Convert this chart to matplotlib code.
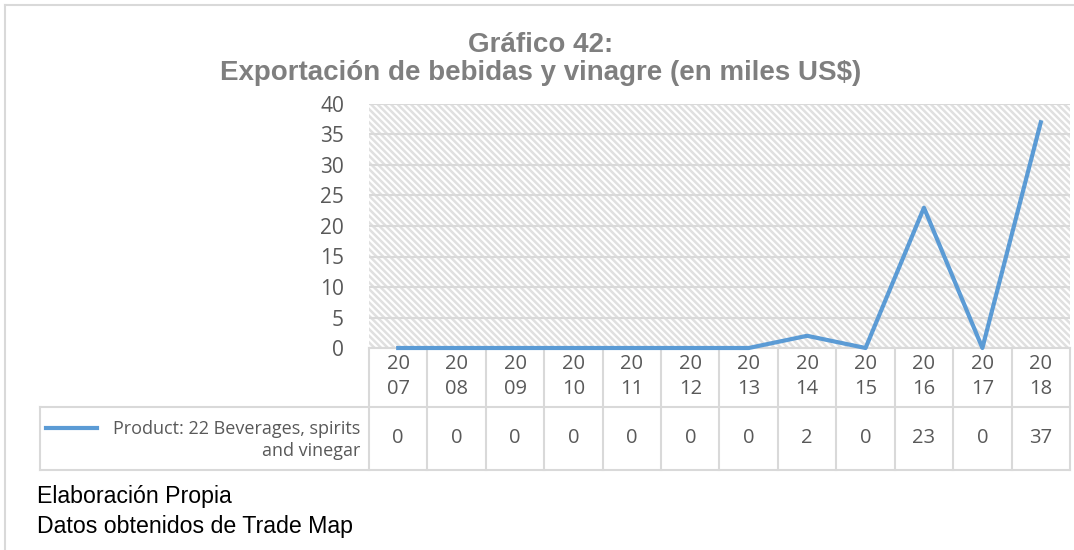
import matplotlib
matplotlib.use('Agg')
import matplotlib.pyplot as plt
import matplotlib.transforms as mtransforms
from matplotlib.patches import Rectangle
from matplotlib.lines import Line2D

# exportaciones anuales, miles US$
years = ['2007', '2008', '2009', '2010', '2011', '2012',
         '2013', '2014', '2015', '2016', '2017', '2018']
exports = [0, 0, 0, 0, 0, 0, 0, 2, 0, 23, 0, 37]
series_name = 'Product: 22 Beverages, spirits\nand vinegar'
y_ticks = [0, 5, 10, 15, 20, 25, 30, 35, 40]

title_1 = 'Gráfico 42:'
title_2 = 'Exportación de bebidas y vinagre (en miles US$)'
notes = ['Elaboración Propia', 'Datos obtenidos de Trade Map']

BLUE = '#5B9BD5'
GRID = '#d9d9d9'
TXT = '#595959'

plt.rcParams['hatch.linewidth'] = 1.8

W, H = 1074, 550
fig = plt.figure(figsize=(W / 100, H / 100), dpi=100)


def fx(px):
    return px / W


def fy(py):
    return 1 - py / H


ax = fig.add_axes([fx(369), fy(348), (1070 - 369) / W, (348 - 104) / H])

# fondo rayado
ax.add_patch(Rectangle((0, 0), 1, 1, transform=ax.transAxes, facecolor='white',
                       edgecolor='#e0e0e0', hatch='\\' * 5, lw=0, zorder=0))
ax.set_axisbelow(True)
ax.yaxis.grid(True, color=GRID, lw=1.5)

x = list(range(len(years)))
ax.plot(x, exports, color=BLUE, lw=3, clip_on=False, zorder=4)

ax.set_xlim(-0.5, len(years) - 0.5)
ax.set_ylim(0, 40)
ax.set_yticks(y_ticks)
ax.set_xticks([])
ax.tick_params(axis='y', length=0, pad=18, labelsize=15, labelcolor=TXT)
for lab in ax.get_yticklabels():
    lab.set_family('Open Sans')
for s in ax.spines.values():
    s.set_visible(False)

# tabla de datos bajo el eje
tr = mtransforms.blended_transform_factory(ax.transData, fig.transFigure)
x_right = ax.get_position().x1
lw_t = 1.5
for i in range(len(years) + 1):
    ax.add_line(Line2D([i - 0.5, i - 0.5], [fy(348), fy(470)], transform=tr,
                       color=GRID, lw=lw_t, clip_on=False, zorder=2))
ax.add_line(Line2D([-0.5, len(years) - 0.5], [fy(348), fy(348)], transform=tr,
                   color=GRID, lw=lw_t, clip_on=False, zorder=2))
for yy in (407, 470):
    fig.add_artist(Line2D([fx(40), x_right], [fy(yy), fy(yy)], color=GRID, lw=lw_t))
fig.add_artist(Line2D([fx(40), fx(40)], [fy(407), fy(470)], color=GRID, lw=lw_t))

for i, (yr, v) in enumerate(zip(years, exports)):
    ax.text(i, fy(376.5), yr[:2] + '\n' + yr[2:], transform=tr, ha='center',
            va='center', linespacing=1.35, fontsize=14.5, color=TXT,
            family='Open Sans')
    ax.text(i, fy(438), str(v), transform=tr, ha='center', va='center',
            fontsize=14.5, color=TXT, family='Open Sans')

# leyenda dentro de la tabla
fig.add_artist(Line2D([fx(46), fx(97)], [fy(428), fy(428)], color=BLUE, lw=3))
fig.text(fx(360), fy(440), series_name, ha='right', va='center',
         multialignment='right', fontsize=13, linespacing=1.35, color=TXT,
         family='Open Sans')

# marco
fig.add_artist(Line2D([fx(5), 1], [fy(5), fy(5)], color=GRID, lw=1.5))
fig.add_artist(Line2D([fx(5), fx(5)], [fy(5), 0], color=GRID, lw=1.5))

fig.text(fx(541), fy(52), title_1, ha='center', va='baseline', fontsize=20,
         weight='bold', color='#7f7f7f', family='Liberation Sans')
fig.text(fx(541), fy(80), title_2, ha='center', va='baseline', fontsize=20,
         weight='bold', color='#7f7f7f', family='Liberation Sans')

fig.text(fx(37), fy(503), notes[0], va='baseline', fontsize=16.7,
         family='Liberation Sans', color='black')
fig.text(fx(37), fy(533), notes[1], va='baseline', fontsize=16.7,
         family='Liberation Sans', color='black')

fig.savefig('out.png', dpi=100)
